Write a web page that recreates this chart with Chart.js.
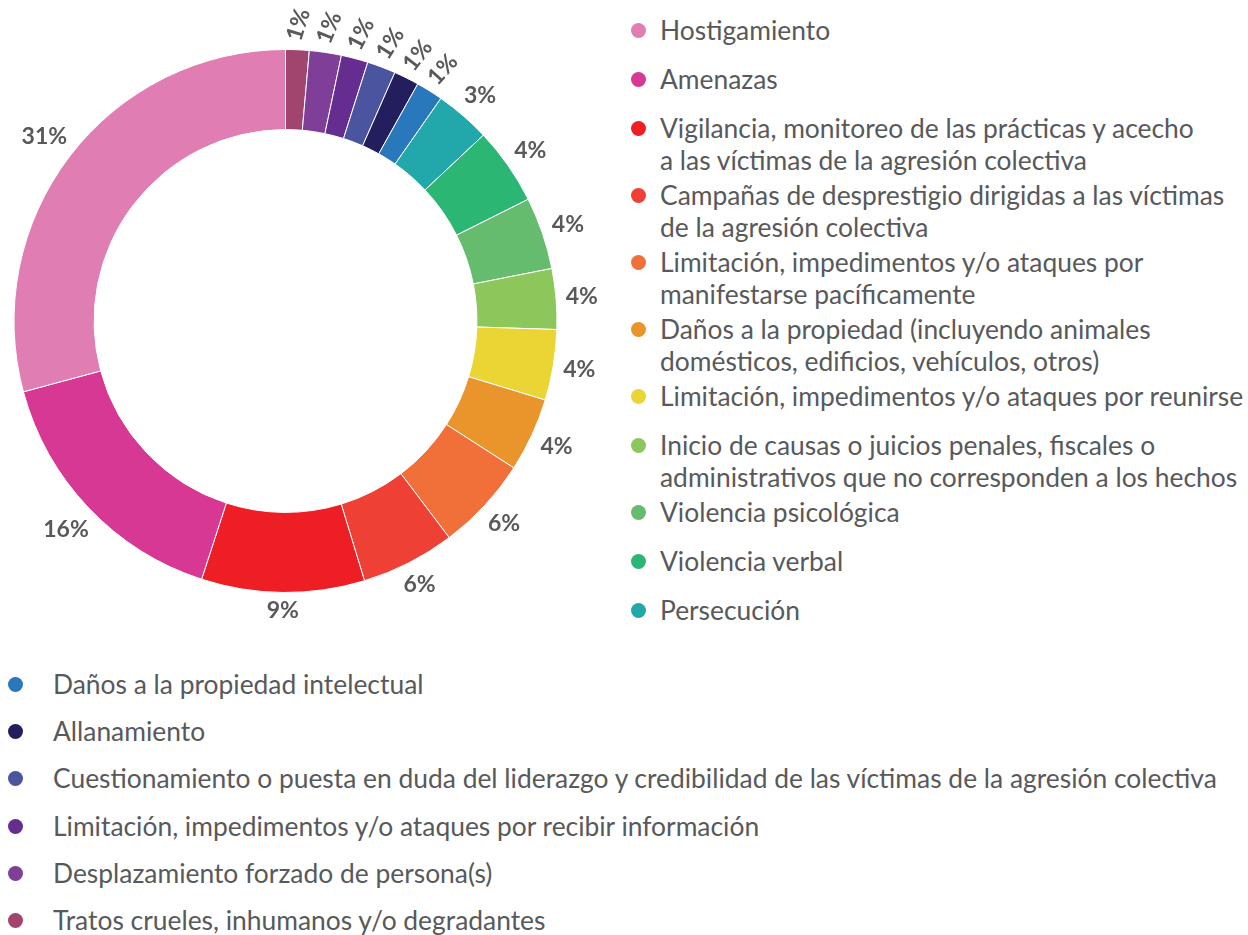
<!DOCTYPE html>
<html lang="es">
<head>
<meta charset="utf-8">
<title>Agresiones colectivas</title>
<script src="https://cdn.jsdelivr.net/npm/chart.js@4.4.1/dist/chart.umd.min.js"></script>
<style>
  html, body {
    margin: 0;
    padding: 0;
    background: #fff;
  }
  body {
    width: 1248px;
    height: 935px;
    position: relative;
    overflow: hidden;
    font-family: 'Lato', 'Open Sans', sans-serif;
    color: #58595b;
  }
  #chart-wrap {
    position: absolute;
    left: 0;
    top: 0;
    width: 600px;
    height: 650px;
  }
  .legend {
    position: absolute;
    margin: 0;
    padding: 0;
    list-style: none;
    font-size: 26.4px;
    line-height: 32px;
    white-space: nowrap;
  }
  .legend li {
    position: relative;
  }
  .legend .dot {
    position: absolute;
    width: 15px;
    height: 15px;
    border-radius: 50%;
    top: 9px;
  }
  #legend-right {
    left: 631px;
    top: 14px;
  }
  #legend-right li {
    padding-left: 29px;
    min-height: 49px;
  }
  #legend-right li.two-lines {
    min-height: 67px;
  }
  #legend-right .dot {
    left: 0;
  }
  #legend-bottom {
    left: 8px;
    top: 668px;
  }
  #legend-bottom li {
    padding-left: 45px;
    height: 47.2px;
  }
  #legend-bottom .dot {
    left: 0;
  }
</style>
</head>
<body>
<div id="chart-wrap"><canvas id="donut-chart"></canvas></div>
<ul id="legend-right" class="legend"></ul>
<ul id="legend-bottom" class="legend"></ul>

<script>
  // Categories, in legend order (counter-clockwise from 12 o'clock in the ring).
  const categories = [
    [ 'Hostigamiento' ],
    [ 'Amenazas' ],
    [ 'Vigilancia, monitoreo de las prácticas y acecho', 'a las víctimas de la agresión colectiva' ],
    [ 'Campañas de desprestigio dirigidas a las víctimas', 'de la agresión colectiva' ],
    [ 'Limitación, impedimentos y/o ataques por', 'manifestarse pacíficamente' ],
    [ 'Daños a la propiedad (incluyendo animales', 'domésticos, edificios, vehículos, otros)' ],
    [ 'Limitación, impedimentos y/o ataques por reunirse' ],
    [ 'Inicio de causas o juicios penales, fiscales o', 'administrativos que no corresponden a los hechos' ],
    [ 'Violencia psicológica' ],
    [ 'Violencia verbal' ],
    [ 'Persecución' ],
    [ 'Daños a la propiedad intelectual' ],
    [ 'Allanamiento' ],
    [ 'Cuestionamiento o puesta en duda del liderazgo y credibilidad de las víctimas de la agresión colectiva' ],
    [ 'Limitación, impedimentos y/o ataques por recibir información' ],
    [ 'Desplazamiento forzado de persona(s)' ],
    [ 'Tratos crueles, inhumanos y/o degradantes' ]
  ];

  // Slice shares (percent of the circle).
  const shares = [ 29.2, 15.8, 9.7, 5.6, 5.6, 4.4, 4.2, 3.6, 4.3, 4.6, 3.3, 1.6, 1.5, 1.7, 1.6, 1.9, 1.4 ];

  // Percent labels printed next to each slice.
  const pctLabels = [ '31%', '16%', '9%', '6%', '6%', '4%', '4%', '4%', '4%', '4%', '3%', '1%', '1%', '1%', '1%', '1%', '1%' ];

  const colors = [
    '#e07db3', '#d63894', '#ed1f24', '#ef4036', '#f1703a', '#ea952c',
    '#ead535', '#8dc65a', '#65bb6e', '#2cb673', '#22a8ab', '#2878bb',
    '#231f5f', '#4b549e', '#662d91', '#7f3f98', '#a1456f'
  ];

  // How many legend entries sit to the right of the ring.
  const rightLegendCount = 11;

  const textColor = '#58595b';

  /**
   * Draws the percent labels just outside the ring.
   */
  const outsideLabels = {
    id: 'outsideLabels',
    afterDatasetsDraw( chart ) {
      const ctx = chart.ctx;
      const meta = chart.getDatasetMeta( 0 );
      const labels = chart.data.datasets[ 0 ].pctLabels;
      ctx.save();
      ctx.font = 'bold 23px Lato, sans-serif';
      ctx.fillStyle = textColor;
      ctx.textAlign = 'center';
      ctx.textBaseline = 'middle';
      meta.data.forEach( ( arc, i ) => {
        const p = arc.getProps( [ 'x', 'y', 'startAngle', 'endAngle', 'outerRadius' ], true );
        const mid = ( p.startAngle + p.endAngle ) / 2;
        const text = labels[ i ];
        const w = ctx.measureText( text ).width;
        const h = 17;
        const gap = 9;
        const small = ( p.endAngle - p.startAngle ) < 0.15;
        let extent;
        if ( small ) {
          extent = w / 2;
        } else {
          extent = Math.abs( Math.cos( mid ) ) * w / 2 + Math.abs( Math.sin( mid ) ) * h / 2;
        }
        const r = p.outerRadius + gap + extent;
        const x = p.x + Math.cos( mid ) * r;
        const y = p.y + Math.sin( mid ) * r;
        ctx.save();
        ctx.translate( x, y );
        if ( small ) {
          ctx.rotate( mid * 0.83 );
        }
        ctx.fillText( text, 0, 0 );
        ctx.restore();
      } );
      ctx.restore();
    }
  };

  /**
   * Builds the two HTML legends (right column and bottom list).
   */
  function buildLegends() {
    const right = document.getElementById( 'legend-right' );
    const bottom = document.getElementById( 'legend-bottom' );
    categories.forEach( ( lines, i ) => {
      const li = document.createElement( 'li' );
      if ( lines.length > 1 ) {
        li.className = 'two-lines';
      }
      const dot = document.createElement( 'span' );
      dot.className = 'dot';
      dot.style.background = colors[ i ];
      li.appendChild( dot );
      lines.forEach( ( line, j ) => {
        if ( j > 0 ) {
          li.appendChild( document.createElement( 'br' ) );
        }
        li.appendChild( document.createTextNode( line ) );
      } );
      ( i < rightLegendCount ? right : bottom ).appendChild( li );
    } );
  }

  /**
   * Initialize the doughnut chart.
   */
  function initChart() {
    if ( typeof Chart === 'undefined' ) {
      console.error( 'Chart.js is not loaded' );
      return;
    }

    // The ring runs counter-clockwise, Chart.js draws clockwise: reverse the order.
    const order = shares.map( ( v, i ) => i ).reverse();

    const ctx = document.getElementById( 'donut-chart' ).getContext( '2d' );
    new Chart( ctx, {
      type: 'doughnut',
      data: {
        labels: order.map( ( i ) => categories[ i ].join( ' ' ) ),
        datasets: [ {
          data: order.map( ( i ) => shares[ i ] ),
          backgroundColor: order.map( ( i ) => colors[ i ] ),
          pctLabels: order.map( ( i ) => pctLabels[ i ] ),
          borderColor: '#ffffff',
          borderWidth: 1,
          hoverOffset: 0,
          offset: 0
        } ]
      },
      options: {
        responsive: true,
        maintainAspectRatio: false,
        animation: false,
        cutout: '70.5%',
        layout: {
          padding: { left: 13, right: 42, top: 49, bottom: 57 }
        },
        plugins: {
          legend: { display: false },
          tooltip: { enabled: false }
        }
      },
      plugins: [ outsideLabels ]
    } );
  }

  buildLegends();
  initChart();
</script>
</body>
</html>
